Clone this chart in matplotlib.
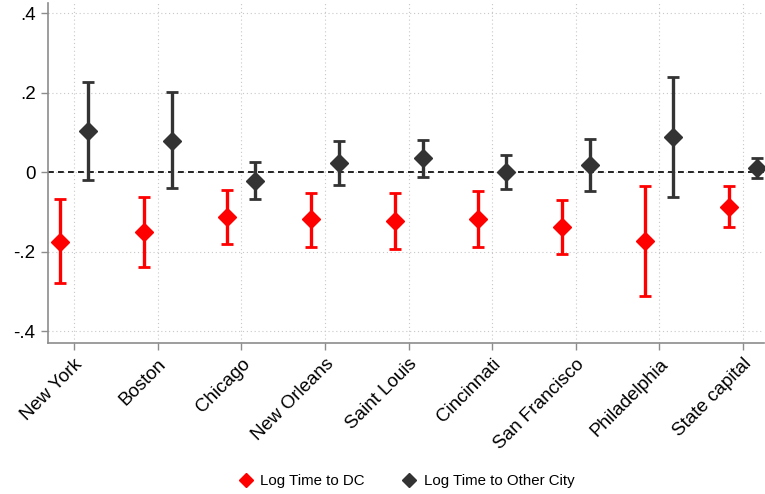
import matplotlib
matplotlib.use("Agg")
import matplotlib.pyplot as plt
import numpy as np

plt.rcParams['font.family'] = ['Liberation Sans', 'DejaVu Sans']

categories = ["New York", "Boston", "Chicago", "New Orleans", "Saint Louis",
              "Cincinnati", "San Francisco", "Philadelphia", "State capital"]

dc_coef = [-0.174, -0.150, -0.113, -0.118, -0.121, -0.118, -0.138, -0.172, -0.086]
dc_lo = [-0.279, -0.238, -0.181, -0.187, -0.192, -0.188, -0.206, -0.310, -0.137]
dc_hi = [-0.067, -0.061, -0.044, -0.051, -0.051, -0.048, -0.070, -0.035, -0.033]

other_coef = [0.103, 0.080, -0.021, 0.023, 0.036, 0.000, 0.019, 0.090, 0.011]
other_lo = [-0.019, -0.040, -0.067, -0.031, -0.011, -0.042, -0.048, -0.061, -0.015]
other_hi = [0.227, 0.202, 0.026, 0.078, 0.082, 0.045, 0.085, 0.241, 0.037]

yticks = [-0.4, -0.2, 0, 0.2, 0.4]
yticklabels = ["-.4", "-.2", "0", ".2", ".4"]

series_labels = ["Log Time to DC", "Log Time to Other City"]
RED = "#ff0000"
DARK = "#333333"

fig = plt.figure(figsize=(7.65, 4.94), dpi=100)
ax = fig.add_axes([48/765, 1-343/494, (764-48)/765, (343-3)/494])

x = np.arange(len(categories))
off = 0.167

def draw(xpos, coef, lo, hi, color, label):
    coef = np.array(coef); lo = np.array(lo); hi = np.array(hi)
    ax.errorbar(xpos, coef, yerr=[coef - lo, hi - coef], fmt='none',
                ecolor=color, elinewidth=2.4, capsize=4.5, capthick=2.0, zorder=3)
    ax.plot(xpos, coef, linestyle='none', marker='D', markersize=8.7,
            color=color, markeredgecolor=color, zorder=4, label=label)

draw(x - off, dc_coef, dc_lo, dc_hi, RED, series_labels[0])
draw(x + off, other_coef, other_lo, other_hi, DARK, series_labels[1])

ax.axhline(0, color='black', linestyle=(0, (3.5, 2.5)), linewidth=1.2, zorder=2)

ax.set_xlim(-0.311, 8.25)
ax.set_ylim(-0.429, 0.426)
ax.set_yticks(yticks)
ax.set_yticklabels(yticklabels)
ax.set_xticks(x)
ax.set_xticklabels(categories, rotation=45, ha='right', rotation_mode='anchor')

ax.grid(True, color='#c8c8c8', linestyle=(0, (1, 2.5)), linewidth=0.8, zorder=0)
ax.set_axisbelow(True)

for s in ['top', 'right']:
    ax.spines[s].set_visible(False)
for s in ['left', 'bottom']:
    ax.spines[s].set_color('#8c8c8c')
    ax.spines[s].set_linewidth(1.2)

ax.tick_params(axis='both', colors='#8c8c8c', length=5, width=1.0, direction='out')
ax.tick_params(axis='y', labelcolor='black', labelsize=13.5, pad=4)
ax.tick_params(axis='x', labelcolor='black', labelsize=13.5, pad=4)

handles, labels = ax.get_legend_handles_labels()
fig.legend(handles, labels, loc='center', bbox_to_anchor=(0.53, 0.026), ncol=2,
           frameon=False, fontsize=10.8, handletextpad=0.35, columnspacing=2.4,
           handlelength=1.2, markerscale=0.85)

fig.savefig("out.png", dpi=100)
